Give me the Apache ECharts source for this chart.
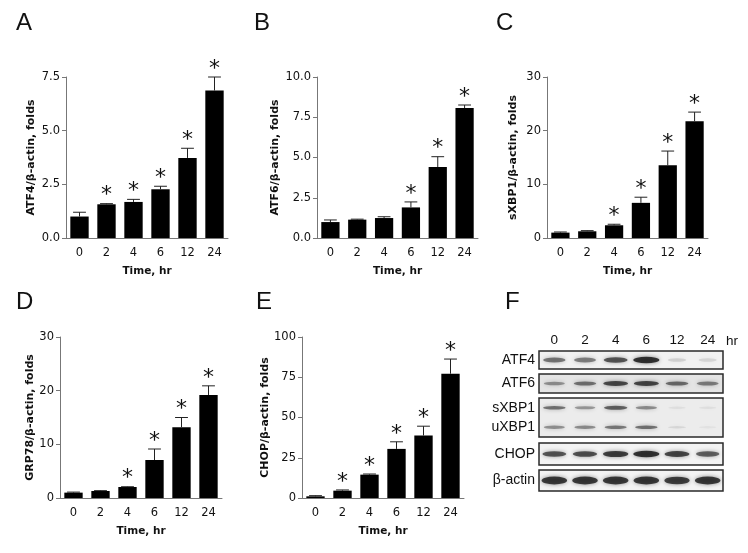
<!DOCTYPE html>
<html>
<head>
<meta charset="utf-8">
<script src="https://cdn.jsdelivr.net/npm/echarts@6/dist/echarts.min.js"></script>
<style>html,body{margin:0;padding:0;background:#fff}#c{width:748px;height:553px}</style>
</head>
<body>
<div id="c"></div>
<script>
// ---------- data ----------
const times = ['0', '2', '4', '6', '12', '24'];

const atf4Mean = [1.00, 1.57, 1.68, 2.27, 3.73, 6.87];
const atf4Err  = [1.20, 1.60, 1.80, 2.41, 4.18, 7.50];
const atf4Sig  = [0, 1, 1, 1, 1, 1];
const atf4Ticks = [0, 2.5, 5, 7.5];

const atf6Mean = [0.99, 1.14, 1.24, 1.90, 4.41, 8.07];
const atf6Err  = [1.12, 1.17, 1.32, 2.24, 5.05, 8.26];
const atf6Sig  = [0, 0, 0, 1, 1, 1];
const atf6Ticks = [0, 2.5, 5, 7.5, 10];

const sxbp1Mean = [1.00, 1.25, 2.37, 6.55, 13.54, 21.77];
const sxbp1Err  = [1.12, 1.37, 2.56, 7.60, 16.20, 23.46];
const sxbp1Sig  = [0, 0, 1, 1, 1, 1];
const sxbp1Ticks = [0, 10, 20, 30];

const grp78Mean = [1.00, 1.30, 2.05, 7.08, 13.20, 19.20];
const grp78Err  = [1.10, 1.37, 2.10, 9.13, 15.00, 20.90];
const grp78Sig  = [0, 0, 1, 1, 1, 1];
const grp78Ticks = [0, 10, 20, 30];

const chopMean = [1.04, 4.56, 14.5, 30.5, 38.8, 77.2];
const chopErr  = [1.45, 5.00, 14.9, 34.9, 44.6, 86.3];
const chopSig  = [0, 1, 1, 1, 1, 1];
const chopTicks = [0, 25, 50, 75, 100];

// western blot band intensities (0..1) per lane
const blotLanes = ['0', '2', '4', '6', '12', '24'];
const blotATF4  = [0.60, 0.55, 0.78, 1.00, 0.15, 0.12];
const blotATF6  = [0.45, 0.62, 0.85, 0.88, 0.65, 0.55];
const blotSXBP1 = [0.62, 0.42, 0.72, 0.48, 0.07, 0.07];
const blotUXBP1 = [0.45, 0.48, 0.58, 0.62, 0.10, 0.05];
const blotCHOP  = [0.78, 0.82, 0.92, 1.00, 0.88, 0.72];
const blotActin = [0.95, 0.95, 0.95, 0.95, 0.92, 0.95];

// ---------- layout/styles ----------
const numFont = 'DejaVu Sans';
const panels = [
  {mean: atf4Mean, err: atf4Err, sig: atf4Sig, ticks: atf4Ticks, dec: 1, name: 'ATF4/β-actin, folds', grid: {left: 66, top: 77, width: 162, height: 161}, gap: 29},
  {mean: atf6Mean, err: atf6Err, sig: atf6Sig, ticks: atf6Ticks, dec: 1, name: 'ATF6/β-actin, folds', grid: {left: 317, top: 77, width: 161, height: 161}, gap: 36},
  {mean: sxbp1Mean, err: sxbp1Err, sig: sxbp1Sig, ticks: sxbp1Ticks, dec: 0, name: 'sXBP1/β-actin, folds', grid: {left: 547, top: 77, width: 161, height: 161}, gap: 28},
  {mean: grp78Mean, err: grp78Err, sig: grp78Sig, ticks: grp78Ticks, dec: 0, name: 'GRP78/β-actin, folds', grid: {left: 60, top: 337, width: 162, height: 161}, gap: 24},
  {mean: chopMean, err: chopErr, sig: chopSig, ticks: chopTicks, dec: 0, name: 'CHOP/β-actin, folds', grid: {left: 302, top: 337, width: 162, height: 161}, gap: 30}
];

const grids = [], xAxes = [], yAxes = [], series = [];

panels.forEach((p, k) => {
  grids.push(p.grid);
  xAxes.push({
    type: 'category', gridIndex: k, data: times,
    axisLine: {lineStyle: {color: '#777', width: 1}},
    axisTick: {show: false},
    axisLabel: {fontFamily: numFont, fontSize: 11.5, color: '#111', margin: 9},
    name: 'Time, hr', nameLocation: 'middle', nameGap: 28,
    nameTextStyle: {fontFamily: 'DejaVu Sans', fontWeight: 'bold', fontSize: 10.5, color: '#111'}
  });
  const t = p.ticks;
  yAxes.push({
    type: 'value', gridIndex: k, min: t[0], max: t[t.length - 1], interval: t[1] - t[0],
    axisLine: {show: true, lineStyle: {color: '#777', width: 1}},
    axisTick: {show: true, length: 4, lineStyle: {color: '#777'}},
    splitLine: {show: false},
    axisLabel: {fontFamily: numFont, fontSize: 11.5, color: '#111', margin: 6,
      formatter: v => v.toFixed(p.dec)},
    name: p.name, nameLocation: 'middle', nameRotate: 90, nameGap: p.gap,
    nameTextStyle: {fontFamily: 'DejaVu Sans', fontWeight: 'bold', fontSize: 11, color: '#111'}
  });
  series.push({
    type: 'bar', xAxisIndex: k, yAxisIndex: k, data: p.mean,
    barWidth: '68%', itemStyle: {color: '#000'}, silent: true, animation: false
  });
  series.push({
    type: 'custom', xAxisIndex: k, yAxisIndex: k, animation: false, silent: true, z: 5,
    data: p.mean.map((v, i) => [i, v, p.err[i], p.sig[i]]),
    encode: {x: 0, y: 1},
    renderItem: (params, api) => {
      const i = api.value(0), v = api.value(1), e = api.value(2), s = api.value(3);
      const p0 = api.coord([i, v]);
      const p1 = api.coord([i, e]);
      const bw = api.size([1, 0])[0];
      const cw = bw * 0.68 * 0.7;
      const children = [
        {type: 'line', shape: {x1: p0[0], y1: p0[1], x2: p0[0], y2: p1[1]}, style: {stroke: '#222', lineWidth: 1}},
        {type: 'line', shape: {x1: p0[0] - cw / 2, y1: p1[1], x2: p0[0] + cw / 2, y2: p1[1]}, style: {stroke: '#222', lineWidth: 1}}
      ];
      if (s) {
        children.push({type: 'text', x: p0[0], y: p1[1] - 8,
          style: {text: '*', fontFamily: 'DejaVu Sans', fontSize: 22, fill: '#111', align: 'center', verticalAlign: 'middle'}});
      }
      return {type: 'group', children};
    }
  });
});

// ---------- western blot panel ----------
const blotRows = [
  {labels: ['ATF4'], bands: [blotATF4], top: 351, height: 18, bg: '#f1f1f1', thick: [5.5]},
  {labels: ['ATF6'], bands: [blotATF6], top: 374, height: 19, bg: '#e4e4e4', thick: [4.5]},
  {labels: ['sXBP1', 'uXBP1'], bands: [blotSXBP1, blotUXBP1], top: 398, height: 39, bg: '#ececec', thick: [4, 4]},
  {labels: ['CHOP'], bands: [blotCHOP], top: 443, height: 22, bg: '#f3f3f3', thick: [5.5]},
  {labels: ['β-actin'], bands: [blotActin], top: 470, height: 21, bg: '#f3f3f3', thick: [7]}
];

blotRows.forEach((r, j) => {
  const gi = grids.length;
  grids.push({left: 539, width: 184, top: r.top, height: r.height, show: true,
    backgroundColor: r.bg, borderColor: '#2a2a2a', borderWidth: 1.5});
  xAxes.push({
    type: 'category', gridIndex: gi, data: blotLanes, position: 'top',
    axisLine: {show: false}, axisTick: {show: false},
    axisLabel: {show: j === 0, fontFamily: 'Liberation Sans', fontSize: 13.5, color: '#111', margin: 4},
    name: j === 0 ? 'hr' : '', nameLocation: 'end', nameGap: 3,
    nameTextStyle: {fontFamily: 'Liberation Sans', fontSize: 13.5, color: '#111', verticalAlign: 'bottom', padding: [0, 0, 3, 0]}
  });
  yAxes.push({
    type: 'category', gridIndex: gi, data: r.labels, inverse: true,
    axisLine: {show: false}, axisTick: {show: false}, splitLine: {show: false},
    axisLabel: {fontFamily: 'Liberation Sans', fontSize: 14, color: '#111', margin: 4}
  });
  r.bands.forEach((b, bi) => {
    const th = r.thick[bi];
    series.push({
      type: 'scatter', xAxisIndex: gi, yAxisIndex: gi, animation: false, silent: true,
      data: b.map((v, i) => [i, bi, v]),
      symbol: 'circle',
      symbolSize: d => [17 + 9 * d[2], th * (0.55 + 0.6 * d[2])],
      itemStyle: {
        color: params => 'rgba(15,15,15,' + params.value[2].toFixed(2) + ')',
        shadowBlur: 4,
        shadowColor: 'rgba(0,0,0,0.55)'
      }
    });
  });
});

const letters = [
  ['A', 16, 11], ['B', 254, 11], ['C', 496, 11],
  ['D', 16, 290], ['E', 256, 290], ['F', 505, 290]
];

const chart = echarts.init(document.getElementById('c'), null, {renderer: 'canvas'});
chart.setOption({
  backgroundColor: '#fff',
  animation: false,
  title: letters.map(l => ({text: l[0], left: l[1], top: l[2], padding: 0,
    textStyle: {fontFamily: 'Liberation Sans', fontWeight: 'normal', fontSize: 24, color: '#111'}})),
  grid: grids, xAxis: xAxes, yAxis: yAxes, series
});
</script>
</body>
</html>
